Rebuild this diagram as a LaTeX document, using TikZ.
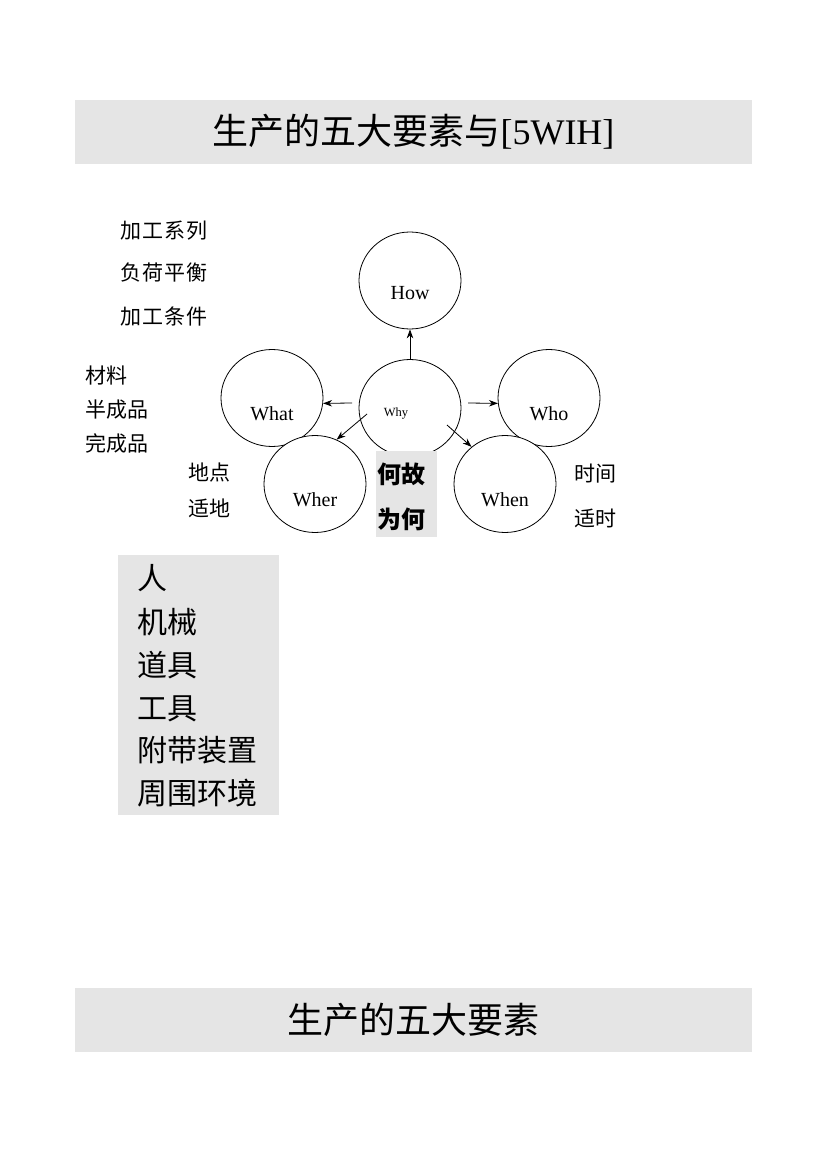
\documentclass[tikz,border=0pt]{standalone}
\usepackage{fontspec}
\setmainfont{Liberation Serif}
\newfontfamily\cjk{Noto Sans CJK SC}
\usetikzlibrary{shapes.geometric,arrows.meta}
\definecolor{boxgray}{RGB}{229,229,229}
\begin{document}
\begin{tikzpicture}[x=1pt,y=-1pt,
  circ/.style={ellipse,draw,line width=0.8pt,minimum width=102pt,minimum height=97pt,inner sep=0pt,fill=white},
  lbl/.style={font=\fontsize{20}{20}\selectfont,anchor=base,inner sep=0pt},
  arr/.style={-{Stealth[length=9pt,width=6.5pt]},line width=0.8pt},
  ctxt/.style={font=\cjk\fontsize{21}{21}\selectfont,anchor=west,inner sep=0pt},
  btxt/.style={font=\cjk\fontsize{30}{30}\selectfont,anchor=west,inner sep=0pt},
  titlebox/.style={fill=boxgray,minimum width=677pt,minimum height=64pt,inner sep=0pt},
  graybox/.style={fill=boxgray,inner sep=0pt}]
\useasboundingbox (0,0) rectangle (826,1169);
% titles
\node[titlebox,font=\fontsize{36}{36}\selectfont] (title1) at (413.5,132) {{\cjk 生产的五大要素与}[5WIH]};
\node[titlebox,font=\cjk\fontsize{36}{36}\selectfont] (title2) at (413.5,1020) {生产的五大要素};
% circles
\node[circ] (how) at (410,280.5) {};
\node[circ] (what) at (272,398) {};
\node[circ] (who) at (549,398) {};
\node[circ] (why) at (410,408) {};
\node[circ] (wher) at (315,484) {};
\node[circ] (when) at (505,484) {};
\node[lbl] (howt) at (410,299) {How};
\node[lbl] (whatt) at (272,420) {What};
\node[lbl] (whot) at (549,420) {Who};
\node[lbl,font=\fontsize{12.5}{12.5}\selectfont] (whyt) at (396,416) {Why};
\node[lbl] (whert) at (315,506) {Wher};
\node[lbl] (whent) at (505,506) {When};
% arrows
\coordinate (s2) at (352,403);
\coordinate (s3) at (468,403);
\coordinate (s4) at (367,414);
\coordinate (s5) at (447,425);
\draw[arr] (why.north) -- (how.south);
\draw[arr] (s2) -- (what.-6);
\draw[arr] (s3) -- (who.186);
\draw[arr] (s4) -- (wher.64);
\draw[arr] (s5) -- (when.132);
% why box
\node[graybox,minimum width=61pt,minimum height=86pt] (whybox) at (406.5,494) {};
\node[ctxt,font=\cjk\bfseries\fontsize{24}{24}\selectfont] (hegu) at (377,474) {何故};
\node[ctxt,font=\cjk\bfseries\fontsize{24}{24}\selectfont] (weihe) at (377,519) {为何};
% left labels
\node[ctxt] (l1) at (120,231) {加\kern1pt 工\kern1pt 系\kern1pt 列};
\node[ctxt] (l2) at (120,273) {负\kern1pt 荷\kern1pt 平\kern1pt 衡};
\node[ctxt] (l3) at (120,317) {加\kern1pt 工\kern1pt 条\kern1pt 件};
\node[ctxt] (m1) at (85,376) {材料};
\node[ctxt] (m2) at (85,410) {半成品};
\node[ctxt] (m3) at (85,443) {完成品};
\node[ctxt] (p1) at (188,473) {地点};
\node[ctxt] (p2) at (188,508) {适地};
\node[ctxt] (t1) at (574,474) {时间};
\node[ctxt] (t2) at (574,518) {适时};
% bottom-left box
\node[graybox,minimum width=161pt,minimum height=260pt] (mbox) at (198.5,685) {};
\node[btxt] (b1) at (137,578) {人};
\node[btxt] (b2) at (137,622) {机械};
\node[btxt] (b3) at (137,665) {道具};
\node[btxt] (b4) at (137,709) {工具};
\node[btxt] (b5) at (137,750) {附带装置};
\node[btxt] (b6) at (137,793) {周围环境};
\end{tikzpicture}
\end{document}
